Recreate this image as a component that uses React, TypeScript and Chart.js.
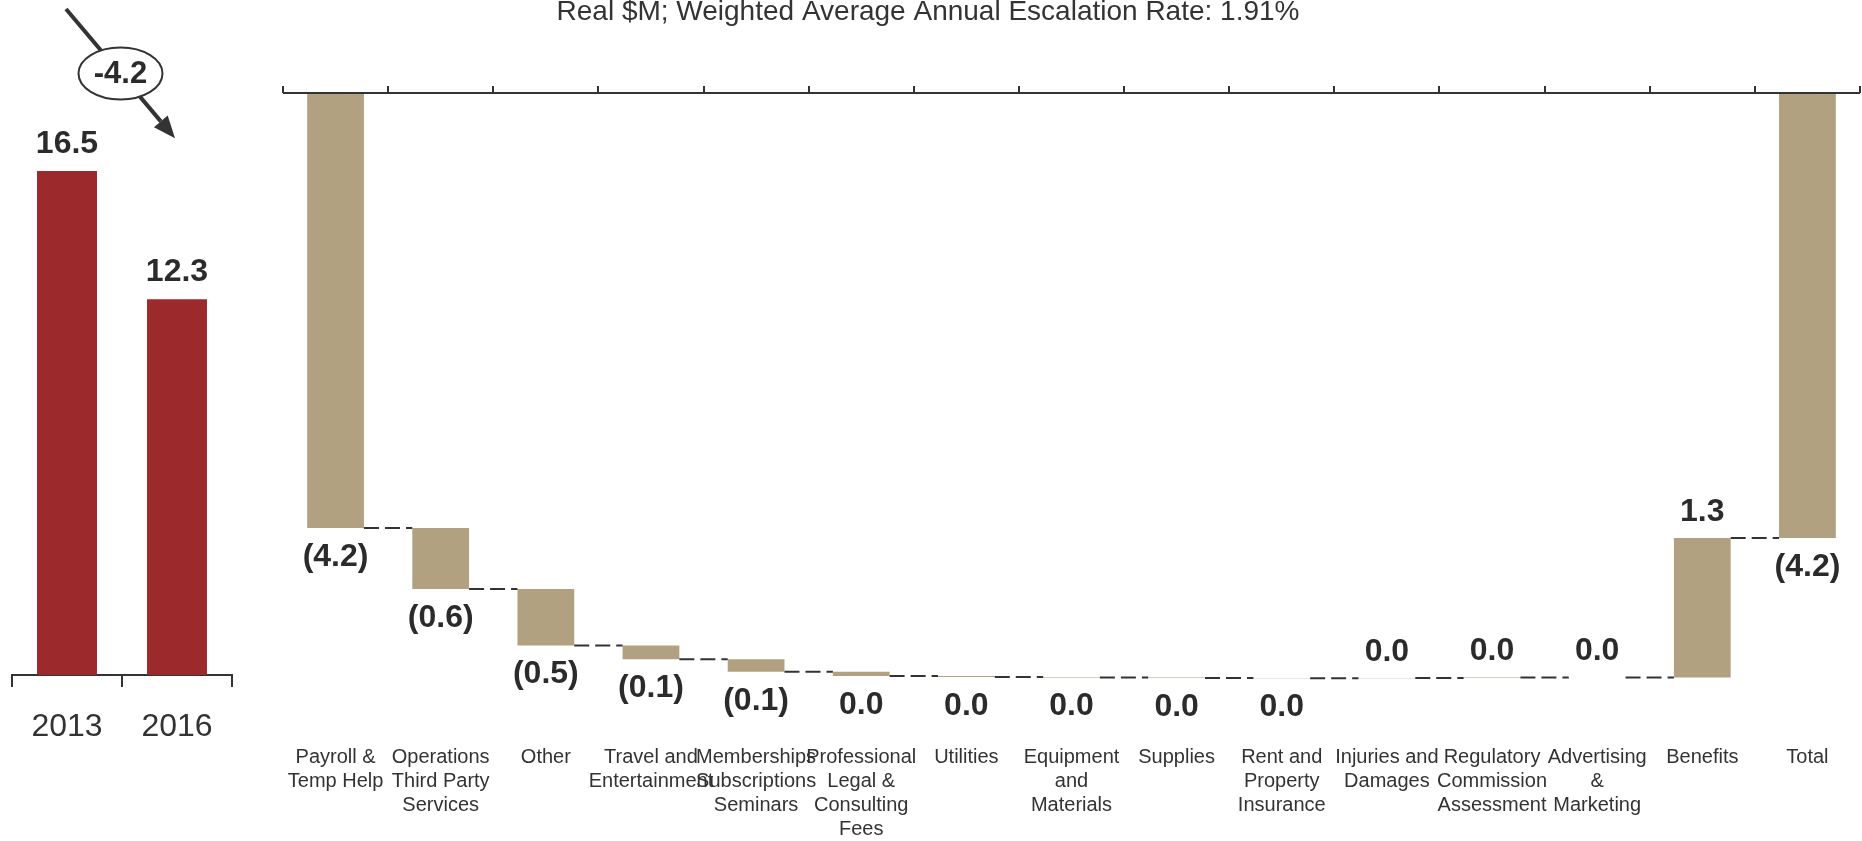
import React, { useEffect, useRef } from "react";
import { Chart, registerables } from "chart.js";

Chart.register(...registerables);

const FONT = '"Liberation Sans", Arial, sans-serif';
const TITLE = "Real $M; Weighted Average Annual Escalation Rate: 1.91%";
const TEXT = "#2b2b2b";
const LINE = "#333333";
const TAN = "#b2a180";
const RED = "#9c2a2c";

// Left panel
const yearLabels = ["2013", "2016"];
const yearValues = [16.5, 12.3];

// Waterfall
const stepLabels: string[][] = [
  ["Payroll &", "Temp Help"],
  ["Operations", "Third Party", "Services"],
  ["Other"],
  ["Travel and", "Entertainment"],
  ["Memberships", "Subscriptions", "Seminars"],
  ["Professional", "Legal &", "Consulting", "Fees"],
  ["Utilities"],
  ["Equipment", "and", "Materials"],
  ["Supplies"],
  ["Rent and", "Property", "Insurance"],
  ["Injuries and", "Damages"],
  ["Regulatory", "Commission", "Assessment"],
  ["Advertising", "&", "Marketing"],
  ["Benefits"],
];
const totalLabel = ["Total"];
const stepValues = [
  -4.15, -0.58, -0.54, -0.13, -0.12, -0.04, -0.01, -0.005, -0.005, -0.003,
  0.004, 0.003, 0.002, 1.33,
];

// derived waterfall structure
const floating: [number, number][] = [];
const levels: number[] = [];
let running = 0;
stepValues.forEach((v) => {
  const s = running;
  running += v;
  floating.push([s, running]);
  levels.push(running);
});
const totalValue = running;
floating.push([0, totalValue]);
levels.push(totalValue);
const allValues = [...stepValues, totalValue];

const fmt = (v: number) => {
  const r = Math.round(Math.abs(v) * 10) / 10;
  const s = r.toFixed(1);
  return v < 0 && r > 0 ? `(${s})` : s;
};

const waterfallPlugin = {
  id: "waterfallDecor",
  afterDatasetsDraw(chart: any) {
    const { ctx, chartArea } = chart;
    const xs = chart.scales.x;
    const ys = chart.scales.y;
    const meta = chart.getDatasetMeta(0);
    const n = allValues.length;
    ctx.save();
    // top category axis at value 0
    const y0 = ys.getPixelForValue(0);
    ctx.strokeStyle = LINE;
    ctx.lineWidth = 2;
    ctx.beginPath();
    ctx.moveTo(chartArea.left, y0);
    ctx.lineTo(chartArea.right, y0);
    for (let i = 0; i <= n; i++) {
      const x = Math.round(xs.getPixelForValue(i - 0.5));
      ctx.moveTo(x, y0);
      ctx.lineTo(x, y0 - 7);
    }
    ctx.stroke();

    // connectors
    ctx.setLineDash([15, 6]);
    ctx.lineWidth = 2;
    for (let i = 0; i < n - 1; i++) {
      const a = meta.data[i] as any;
      const b = meta.data[i + 1] as any;
      const y = ys.getPixelForValue(levels[i]);
      ctx.beginPath();
      ctx.moveTo(a.x + a.width / 2, y);
      ctx.lineTo(b.x - b.width / 2, y);
      ctx.stroke();
    }
    ctx.setLineDash([]);

    // data labels
    ctx.fillStyle = TEXT;
    ctx.font = `bold 32px ${FONT}`;
    ctx.textAlign = "center";
    ctx.textBaseline = "middle";
    for (let i = 0; i < n; i++) {
      const el = meta.data[i] as any;
      const [s, e] = floating[i];
      const v = allValues[i];
      if (v < 0) {
        ctx.fillText(fmt(v), el.x, ys.getPixelForValue(Math.min(s, e)) + 29);
      } else {
        ctx.fillText(fmt(v), el.x, ys.getPixelForValue(Math.max(s, e)) - 26);
      }
    }

    // page title (centred over the whole figure)
    ctx.font = `28px ${FONT}`;
    ctx.textBaseline = "alphabetic";
    ctx.fillStyle = "#333";
    ctx.fillText(TITLE, 928, 20);
    ctx.restore();
  },
};

const leftPlugin = {
  id: "leftDecor",
  afterDatasetsDraw(chart: any) {
    const { ctx } = chart;
    const meta = chart.getDatasetMeta(0);
    const b0 = meta.data[0] as any;
    const b1 = meta.data[1] as any;
    ctx.save();
    ctx.fillStyle = TEXT;
    ctx.font = `bold 32px ${FONT}`;
    ctx.textAlign = "center";
    ctx.textBaseline = "middle";
    yearValues.forEach((v, i) => {
      const el = meta.data[i] as any;
      ctx.fillText(v.toFixed(1), el.x, el.y - 27);
    });

    // change arrow
    const sx = b0.x - 1;
    const sy = b0.y - 162;
    const ex = b1.x - 2;
    const ey = b1.y - 161;
    const ang = Math.atan2(ey - sy, ex - sx);
    const headLen = 22;
    const headW = 9;
    const bx = ex - headLen * Math.cos(ang);
    const by = ey - headLen * Math.sin(ang);
    ctx.strokeStyle = LINE;
    ctx.fillStyle = LINE;
    ctx.lineWidth = 4;
    ctx.beginPath();
    ctx.moveTo(sx, sy);
    ctx.lineTo(bx, by);
    ctx.stroke();
    ctx.beginPath();
    ctx.moveTo(ex, ey);
    ctx.lineTo(bx + headW * Math.sin(ang), by - headW * Math.cos(ang));
    ctx.lineTo(bx - headW * Math.sin(ang), by + headW * Math.cos(ang));
    ctx.closePath();
    ctx.fill();

    const cx = (sx + ex) / 2;
    const cy = (sy + ey) / 2;
    ctx.beginPath();
    ctx.ellipse(cx, cy, 42, 26, 0, 0, Math.PI * 2);
    ctx.fillStyle = "#ffffff";
    ctx.fill();
    ctx.lineWidth = 2;
    ctx.stroke();
    ctx.fillStyle = TEXT;
    ctx.font = `bold 31px ${FONT}`;
    ctx.fillText((yearValues[1] - yearValues[0]).toFixed(1), cx, cy + 1);
    ctx.restore();
  },
};

export default function App() {
  const mainRef = useRef<HTMLCanvasElement | null>(null);
  const leftRef = useRef<HTMLCanvasElement | null>(null);

  useEffect(() => {
    if (!mainRef.current || !leftRef.current) return;
    const main = new Chart(mainRef.current, {
      type: "bar",
      data: {
        labels: [...stepLabels, totalLabel] as any,
        datasets: [
          {
            data: floating as any,
            backgroundColor: TAN,
            borderWidth: 0,
            barPercentage: 0.54,
            categoryPercentage: 1,
          },
        ],
      },
      options: {
        responsive: false,
        animation: false,
        devicePixelRatio: 1,
        layout: { padding: { left: 283, right: 2, top: 93, bottom: 0 } },
        plugins: {
          legend: { display: false },
          tooltip: { enabled: false },
          title: { display: false },
        },
        scales: {
          x: {
            position: "bottom",
            grid: { display: false, drawTicks: false },
            border: { display: false },
            ticks: {
              autoSkip: false,
              maxRotation: 0,
              minRotation: 0,
              padding: 3,
              color: "#333",
              font: { family: FONT, size: 20, lineHeight: 1.2 },
            },
            afterFit: (s: any) => {
              s.height = 99;
            },
          },
          y: { display: false, min: -6.19, max: 0 },
        },
      } as any,
      plugins: [waterfallPlugin],
    });

    const left = new Chart(leftRef.current, {
      type: "bar",
      data: {
        labels: yearLabels,
        datasets: [
          {
            data: yearValues,
            backgroundColor: RED,
            borderWidth: 0,
            barPercentage: 0.545,
            categoryPercentage: 1,
          },
        ],
      },
      options: {
        responsive: false,
        animation: false,
        devicePixelRatio: 1,
        layout: { padding: { left: 12, right: 38, top: 64, bottom: 0 } },
        plugins: {
          legend: { display: false },
          tooltip: { enabled: false },
        },
        scales: {
          x: {
            grid: {
              offset: true,
              drawOnChartArea: false,
              drawTicks: true,
              tickLength: 12,
              color: LINE,
              lineWidth: 2,
            },
            border: { display: true, color: LINE, width: 2 },
            ticks: {
              padding: 21,
              color: "#333",
              font: { family: FONT, size: 32, lineHeight: 1.2 },
            },
            afterFit: (s: any) => {
              s.height = 166;
            },
          },
          y: { display: false, min: 0, max: 20 },
        },
      } as any,
      plugins: [leftPlugin],
    });

    return () => {
      main.destroy();
      left.destroy();
    };
  }, []);

  return (
    <div
      style={{
        position: "fixed",
        left: 0,
        top: 0,
        width: 1862,
        height: 841,
        background: "#ffffff",
        overflow: "hidden",
      }}
    >
      <canvas
        ref={mainRef}
        width={1862}
        height={841}
        style={{ position: "absolute", left: 0, top: 0, width: 1862, height: 841 }}
      />
      <canvas
        ref={leftRef}
        width={270}
        height={841}
        style={{ position: "absolute", left: 0, top: 0, width: 270, height: 841 }}
      />
    </div>
  );
}
